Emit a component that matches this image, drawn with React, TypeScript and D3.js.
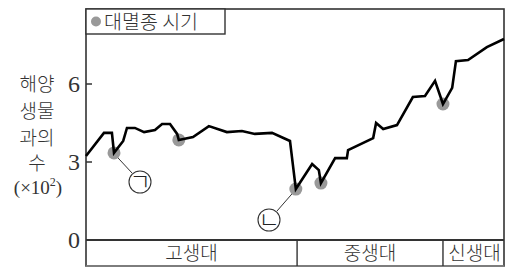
import React from 'react';
import * as d3 from 'd3';

// 시간 축은 그림 속 상대 위치(0~100)로 둔다
const eras = ['고생대', '중생대', '신생대'];
const eraBounds = [0, 50.5, 85.4, 100];

const timeSeries = [0, 4.3, 6.2, 6.7, 8.9, 9.8, 11.7, 13.9, 16.5, 18.2, 20.1, 21.8, 22.2, 25.6, 29.4, 33.7, 37.3, 40.4, 44.5, 48.8, 50.2, 54.1, 55.7, 56.2, 59.6, 62.4, 62.7, 68.7, 69.4, 71.1, 74.4, 78.2, 81.1, 83.5, 85.4, 87.6, 88.5, 91.4, 95.9, 100];
const familyCount = [3.23, 4.12, 4.12, 3.35, 3.81, 4.31, 4.31, 4.15, 4.23, 4.46, 4.46, 4.08, 3.85, 3.96, 4.38, 4.15, 4.19, 4.08, 4.12, 3.81, 1.96, 2.92, 2.69, 2.19, 3.15, 3.15, 3.46, 3.92, 4.5, 4.27, 4.42, 5.5, 5.54, 6.12, 5.23, 5.85, 6.88, 6.92, 7.42, 7.73];

// 대멸종 시기 (점)
const extinctionIdx = [3, 12, 20, 23, 34];
const yTicks = [0, 3, 6];
const yTitle = ['해양', '생물', '과의', '수'];

const W = 507;
const H = 268;
const left = 86;
const right = 504;
const top = 9;
const axisY = 240;
const bandBottom = 266;

const KR = '"Noto Sans CJK KR", "Noto Sans", sans-serif';
const SERIF = '"Liberation Serif", "DejaVu Serif", serif';

export default function App() {
  const x = d3.scaleLinear().domain([0, 100]).range([left, right]);
  const y = d3.scaleLinear().domain([0, 3]).range([axisY, 162]);

  const pts: [number, number][] = timeSeries.map((t, i) => [t, familyCount[i]]);
  const line = d3.line<[number, number]>().x(d => x(d[0])).y(d => y(d[1]));

  const dotR = 6.5;
  const p1 = pts[extinctionIdx[0]];
  const p3 = pts[extinctionIdx[2]];

  return (
    <svg width={W} height={H} style={{ position: 'absolute', left: 0, top: 0, background: '#fff' }}>
      {/* 그래프 틀 */}
      <rect x={left} y={top} width={right - left} height={bandBottom - top} fill="none" stroke="#333" strokeWidth={1.6} />
      <line x1={left} x2={right} y1={axisY} y2={axisY} stroke="#333" strokeWidth={1.8} />
      <line x1={left} x2={right} y1={bandBottom} y2={bandBottom} stroke="#888" strokeWidth={1.4} />

      {/* 시대 구분 */}
      {eras.map((e, i) => (
        <g key={e}>
          {i > 0 && (
            <line x1={x(eraBounds[i])} x2={x(eraBounds[i])} y1={axisY} y2={bandBottom} stroke="#333" strokeWidth={1.4} />
          )}
          <text x={(x(eraBounds[i]) + x(eraBounds[i + 1])) / 2 + (i === 2 ? 1 : 0)} y={260} textAnchor="middle"
            fontFamily={KR} fontWeight={300} fontSize={19} fill="#333">{e}</text>
        </g>
      ))}

      {/* y축 눈금 */}
      {yTicks.map(t => (
        <g key={t}>
          {t > 0 && <line x1={left} x2={left + 6} y1={y(t)} y2={y(t)} stroke="#333" strokeWidth={1.5} />}
          <text x={80} y={y(t) + 8} textAnchor="end" fontFamily={SERIF} fontSize={24} fill="#333">{t}</text>
        </g>
      ))}

      {/* y축 제목 */}
      {yTitle.map((s, i) => (
        <text key={s} x={37} y={[91, 118, 145, 170][i]} textAnchor="middle" fontFamily={KR} fontWeight={300} fontSize={19} fill="#333">{s}</text>
      ))}
      <text x={38} y={194} textAnchor="middle" fontFamily={SERIF} fontSize={19} fill="#333">
        (×10<tspan dy={-8} fontSize={12}>2</tspan><tspan dy={8}>)</tspan>
      </text>

      {/* 범례 */}
      <rect x={left} y={top} width={139} height={25} fill="#fff" stroke="#333" strokeWidth={1.4} />
      <circle cx={96} cy={21.5} r={5} fill="#999" />
      <text x={104} y={29} fontFamily={KR} fontWeight={300} fontSize={19.5} fill="#333">대멸종 시기</text>

      {/* 대멸종 점 */}
      {extinctionIdx.map(i => (
        <circle key={i} cx={x(pts[i][0])} cy={y(pts[i][1])} r={dotR} fill="#999" />
      ))}

      {/* 해양 생물 과의 수 */}
      <path d={line(pts) ?? ''} fill="none" stroke="#000" strokeWidth={2.6} strokeLinejoin="miter" />

      {/* ㄱ, ㄴ 표시 */}
      <line x1={x(p1[0]) + 4} y1={y(p1[1]) + 5} x2={132} y2={173} stroke="#333" strokeWidth={1} />
      <circle cx={140} cy={182} r={11} fill="#fff" stroke="#333" strokeWidth={1.1} />
      <text x={140} y={190} textAnchor="middle" fontFamily={KR} fontWeight={300} fontSize={23} fill="#222">ㄱ</text>

      <line x1={x(p3[0]) - 4} y1={y(p3[1]) + 5} x2={277} y2={211} stroke="#333" strokeWidth={1} />
      <circle cx={269} cy={220} r={11} fill="#fff" stroke="#333" strokeWidth={1.1} />
      <text x={269} y={228} textAnchor="middle" fontFamily={KR} fontWeight={300} fontSize={23} fill="#222">ㄴ</text>
    </svg>
  );
}
